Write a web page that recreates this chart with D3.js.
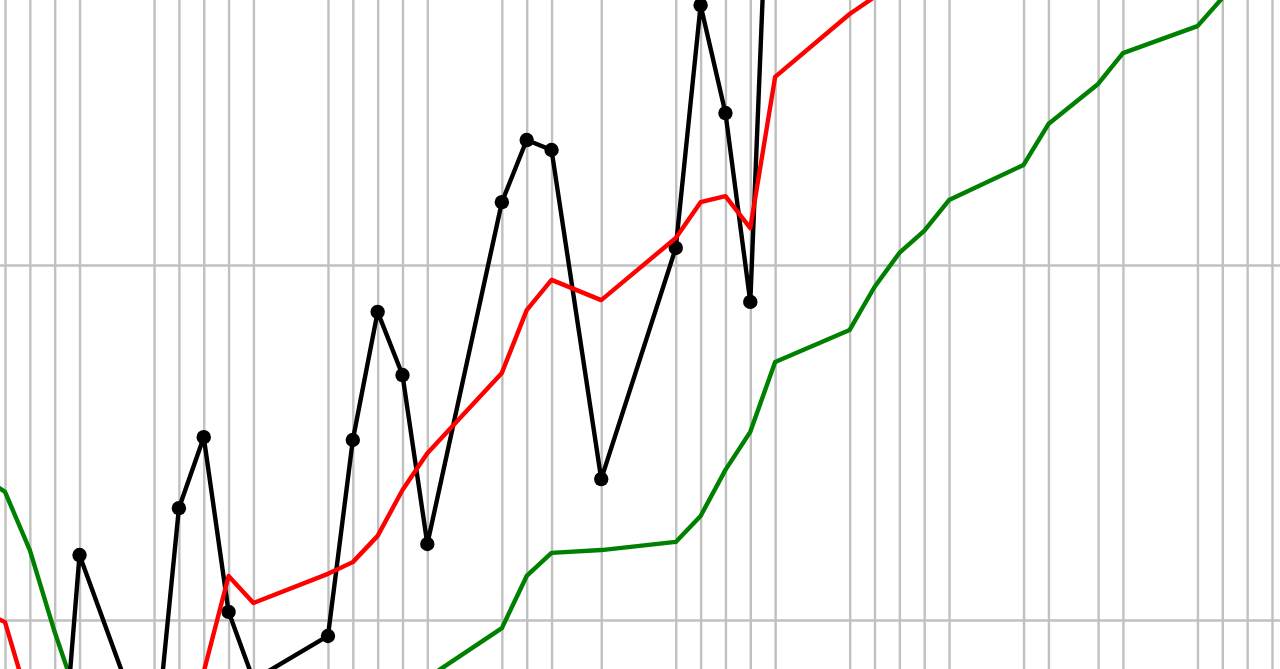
<!DOCTYPE html>
<html>
<head>
<meta charset="utf-8">
<script src="https://cdn.jsdelivr.net/npm/d3@7"></script>
<style>
  html, body { margin: 0; padding: 0; background: #fff; overflow: hidden; }
  svg { display: block; }
</style>
</head>
<body>
<svg id="chart" width="1280" height="669"></svg>
<script>
// Trading dates (weekends and two holidays absent)
const dates = [
  "2019-10-28","2019-10-29","2019-10-30","2019-10-31","2019-11-01",
  "2019-11-04","2019-11-05","2019-11-06","2019-11-07","2019-11-08",
  "2019-11-11","2019-11-12","2019-11-13","2019-11-14","2019-11-15",
  "2019-11-18","2019-11-19","2019-11-20","2019-11-22",
  "2019-11-25","2019-11-26","2019-11-27","2019-11-28","2019-11-29",
  "2019-12-02","2019-12-03","2019-12-04","2019-12-05","2019-12-06",
  "2019-12-09","2019-12-10","2019-12-12","2019-12-13",
  "2019-12-16","2019-12-17","2019-12-18","2019-12-19","2019-12-20"
];
// Daily value (black, with markers)
const price = [
  960, 949, 955, 932, 1018.3,
  960.6, 1031.5, 1051.5, 1002.3, 983.1,
  995.5, 1050.7, 1086.8, 1069.0, 1021.4,
  1117.7, 1135.2, 1132.4, 1039.7,
  1104.8, 1173.2, 1142.8, 1089.6, 1262,
  1190, 1205, 1230, 1245, 1238,
  1255, 1270, 1262, 1280,
  1290, 1305, 1298, 1310, 1315
];
// Short moving average (red)
const maShort = [
  1002.8, 999.4, 975.8, 969, 964.8,
  960.6, 966.2, 985.4, 1012.4, 1004.8,
  1013.0, 1016.3, 1023.7, 1036.6, 1047.0,
  1069.6, 1087.3, 1095.8, 1090.1,
  1107.6, 1117.7, 1119.4, 1110.4, 1153.0,
  1170.7, 1175.5, 1195, 1205, 1222,
  1232, 1245, 1250, 1262,
  1270, 1285, 1290, 1300, 1305
];
// Long moving average (green)
const maLong = [
  1040.8, 1036.1, 1019.7, 996.6, 976.1,
  960.6, 954.9, 952.1, 953.5, 957.7,
  964.8, 969.0, 973.2, 977.5, 983.7,
  997.7, 1012.4, 1018.9, 1019.7,
  1022.0, 1029.3, 1042.3, 1053.0, 1072.7,
  1081.7, 1093.8, 1103.4, 1109.6, 1118.3,
  1128.2, 1139.7, 1151.0, 1159.7,
  1167.3, 1175.2, 1183.1, 1189, 1196
];
// Horizontal grid values
const yTicks = [900, 1000, 1100, 1200];

const W = 1280, H = 669;
const parse = d3.utcParse("%Y-%m-%d");
const t = dates.map(parse);

const x = d3.scaleUtc()
  .domain([parse("2019-10-29"), parse("2019-12-19")])
  .range([5, 1272]);
const y = d3.scaleLinear()
  .domain([1000, 1100])
  .range([620, 265]);

const svg = d3.select("#chart");
const defs = svg.append("defs");
defs.append("filter").attr("id", "soft")
  .attr("x", "-5%").attr("y", "-5%").attr("width", "110%").attr("height", "110%")
  .append("feGaussianBlur").attr("stdDeviation", 0.45);

svg.append("rect").attr("width", W).attr("height", H).attr("fill", "#fff");

const gridColor = "#c0c0c0";

// vertical grid: one line per trading day
const gx = svg.append("g")
  .attr("transform", `translate(0,${H + 40})`)
  .call(d3.axisBottom(x).tickValues(t).tickSize(-(H + 80)).tickFormat(""));
gx.select(".domain").remove();
gx.selectAll(".tick line").attr("stroke", gridColor).attr("stroke-width", 2.4);

// horizontal grid
const gy = svg.append("g")
  .attr("transform", `translate(${-20},0)`)
  .call(d3.axisLeft(y).tickValues(yTicks).tickSize(-(W + 40)).tickFormat(""));
gy.select(".domain").remove();
gy.selectAll(".tick line").attr("stroke", gridColor).attr("stroke-width", 2.4);

function series(vals) { return t.map((d, i) => ({ d, v: vals[i] })); }
const line = d3.line().x(p => x(p.d)).y(p => y(p.v));

const marks = svg.append("g").attr("filter", "url(#soft)");

marks.append("path")
  .datum(series(maLong))
  .attr("d", line)
  .attr("fill", "none").attr("stroke", "#008000")
  .attr("stroke-width", 4.4).attr("stroke-linejoin", "round");

marks.append("path")
  .datum(series(price))
  .attr("d", line)
  .attr("fill", "none").attr("stroke", "#000")
  .attr("stroke-width", 4.4).attr("stroke-linejoin", "round");

marks.append("g").selectAll("circle")
  .data(series(price))
  .join("circle")
  .attr("cx", p => x(p.d)).attr("cy", p => y(p.v))
  .attr("r", 7.2).attr("fill", "#000");

marks.append("path")
  .datum(series(maShort))
  .attr("d", line)
  .attr("fill", "none").attr("stroke", "#ff0000")
  .attr("stroke-width", 4.4).attr("stroke-linejoin", "round");
</script>
</body>
</html>
